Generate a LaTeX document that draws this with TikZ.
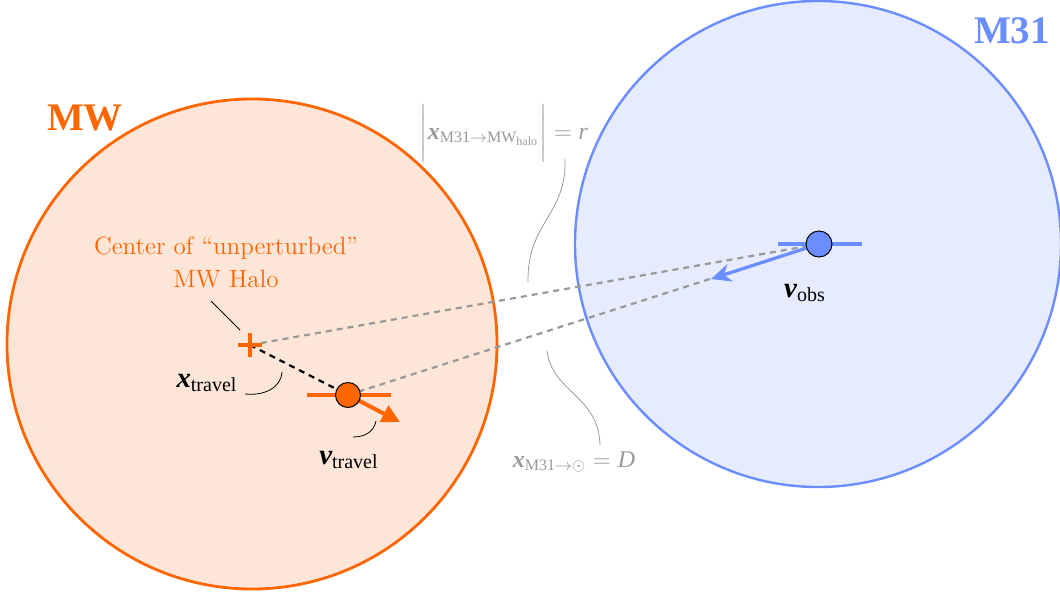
\documentclass[tikz,border=0pt]{standalone}
\usepackage{fontspec}
\usepackage{amsmath}
\newfontfamily\tms{Liberation Serif}
\usetikzlibrary{arrows.meta}
\definecolor{mworange}{HTML}{FF6600}
\definecolor{mwfill}{HTML}{FDE5D8}
\definecolor{mblue}{HTML}{6A8DFF}
\definecolor{mbfill}{HTML}{E6EBFD}
\definecolor{lgray}{HTML}{999999}
\newcommand\Xbi[1]{\text{\tms\bfseries\itshape #1}}
\newcommand\Xrm[1]{\text{\tms #1}}
\newcommand\Xit[1]{\text{\tms\itshape #1}}
\begin{document}
\begin{tikzpicture}[x=0.5pt,y=-0.5pt,
  halo/.style={circle,inner sep=0pt,outer sep=0pt,minimum size=#1},
  dot/.style={circle,draw=black,line width=0.5pt,inner sep=0pt,minimum size=12.5pt},
  graydash/.style={lgray,line width=1.1pt,dash pattern=on 3pt off 2.5pt},
  pin/.style={line width=0.4pt},
  graypin/.style={lgray,line width=0.4pt},
  lbl/.style={inner sep=0pt,font=\Large},
  glbl/.style={inner sep=0pt,font=\large,text=lgray},
  hlabel/.style={inner sep=0pt,font=\fontsize{19.5}{22}\selectfont\tms\bfseries}]
\useasboundingbox (0,0) rectangle (1060,594);
% halos
\node[halo=245pt,fill=mwfill,draw=mworange,line width=1.4pt] (mw) at (252,344) {};
\node[halo=243pt,fill=mbfill,draw=mblue,line width=1.2pt] (m31) at (818,244) {};
\node[hlabel,text=mworange] (mwlabel) at (85,118) {MW};
\node[hlabel,text=mblue] (m31label) at (1012,31) {M31};
% key points
\coordinate (cross) at (250,345);
\coordinate (sat) at (348,395);
\coordinate (obs) at (819,244);
% dashed lines
\draw[graydash] (cross) -- (obs);
\draw[graydash] (sat) -- (obs);
\draw[black,line width=1.1pt,dash pattern=on 3pt off 2.5pt] (cross) -- (sat);
% cross
\draw[mworange,line width=2pt] (238,345) -- (262,345) (250,333) -- (250,357);
% MW satellite
\draw[mworange,line width=2pt] (307,395) -- (391,395);
\draw[mworange,line width=2pt,-{Triangle[length=9pt,width=9pt]}] (sat) -- (400,422);
\node[dot,fill=mworange] (satdot) at (sat) {};
% observer
\draw[mblue,line width=2pt] (778,244) -- (862,244);
\draw[mblue,line width=1.6pt,-{Stealth[length=10pt,width=9pt]}] (obs) -- (711,279);
\node[dot,fill=mblue,minimum size=13pt] (obsdot) at (obs) {};
% center label
\node[inner sep=0pt,font=\fontsize{12.5}{15}\selectfont,text=mworange,align=center] (ctr) at (226,262) {Center of ``unperturbed''\\[1.5pt] MW Halo};
\coordinate (ctrA) at (211,301);
\coordinate (ctrB) at (240,330);
\draw[pin] (ctrA) -- (ctrB);
% labels
\node[lbl] (xtravel) at (207,383) {$\Xbi{x}_{\Xrm{travel}}$};
\coordinate (xtA) at (282,372);
\coordinate (xtB) at (245,394);
\draw[pin] (xtA) .. controls (281,388) and (264,396) .. (xtB);
\node[lbl] (vtravel) at (349,460) {$\Xbi{v}_{\Xrm{travel}}$};
\coordinate (vtA) at (376,421);
\coordinate (vtB) at (353,437);
\draw[pin] (vtA) .. controls (374,431) and (366,437) .. (vtB);
\node[lbl] (vobs) at (805,293) {$\Xbi{v}_{\Xrm{obs}}$};
% gray labels
\node[glbl] (rlab) at (504,133) {$\bigg|\Xbi{x}_{\Xrm{M31}\rightarrow\Xrm{MW}_{\Xrm{halo}}}\bigg| = \Xit{r}$};
\coordinate (rA) at (565,159);
\coordinate (rB) at (528,282);
\draw[graypin] (rA) .. controls (567,215) and (527,222) .. (rB);
\node[glbl] (dlab) at (574,462) {$\Xbi{x}_{\Xrm{M31}\rightarrow\odot} = \Xit{D}$};
\coordinate (dA) at (547,351);
\coordinate (dB) at (600,445);
\draw[graypin] (dA) .. controls (552,392) and (599,396) .. (dB);
\end{tikzpicture}
\end{document}
